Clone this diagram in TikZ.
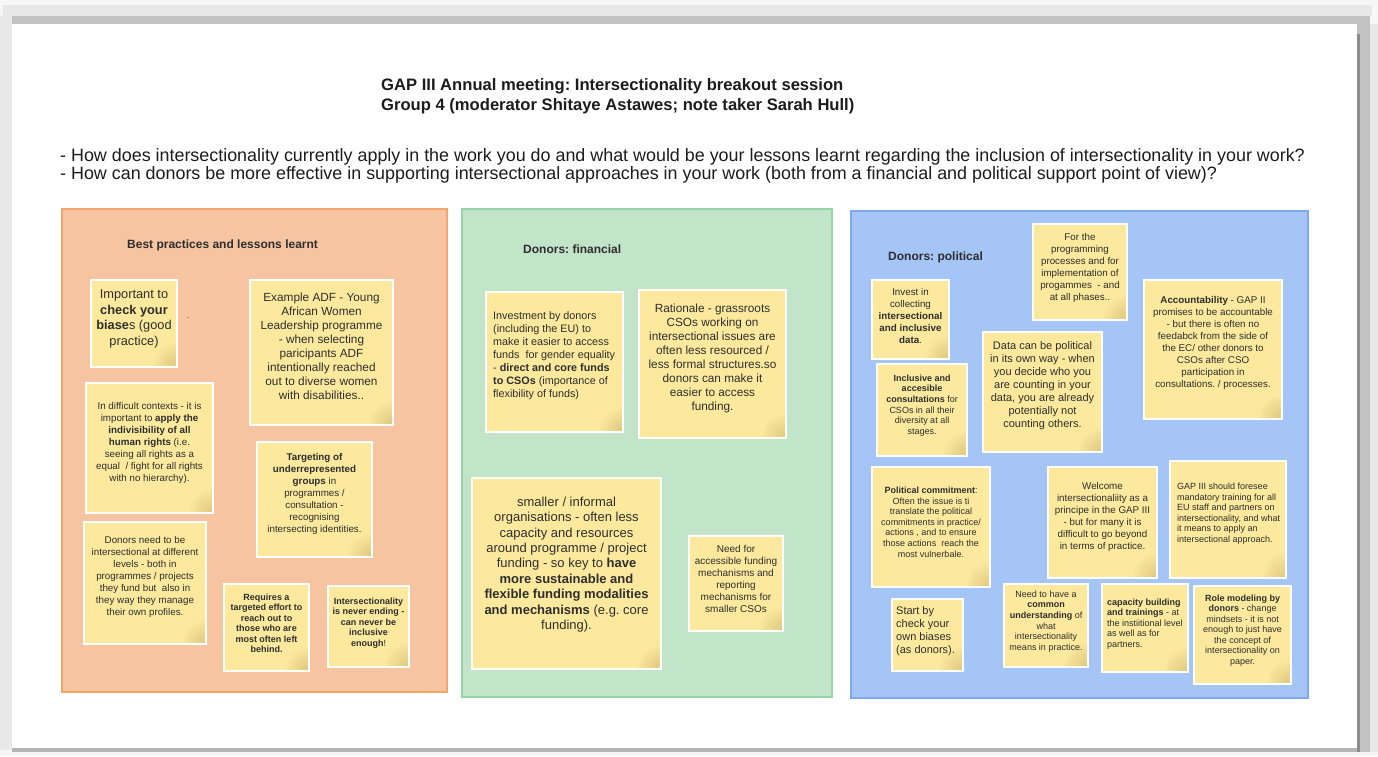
\documentclass[tikz,border=0pt]{standalone}
\usepackage{fontspec}
\setmainfont{Liberation Sans}
\usetikzlibrary{fit}
\frenchspacing

\definecolor{outerbg}{HTML}{F6F6F6}
\definecolor{bandgray}{HTML}{E8E8E8}
\definecolor{shadowgray}{HTML}{C2C2C2}
\definecolor{darkedge}{HTML}{8C8C8C}
\definecolor{bottomedge}{HTML}{B4B4B4}
\definecolor{inktext}{HTML}{2E2E2E}
\definecolor{titleink}{HTML}{1C1C1C}
\definecolor{orangefill}{HTML}{F6C4A0}
\definecolor{orangeline}{HTML}{F2A46E}
\definecolor{greenfill}{HTML}{C2E4C9}
\definecolor{greenline}{HTML}{96D3A5}
\definecolor{bluefill}{HTML}{A6C5F7}
\definecolor{blueline}{HTML}{7EA8F0}
\definecolor{stickyfill}{HTML}{FCE99D}
\definecolor{stickyshade}{HTML}{D8C27A}

\tikzset{
  panel/.style={inner sep=0pt, line width=1.2pt},
  paneltitle/.style={anchor=west, inner sep=0pt, text=inktext,
    font=\fontsize{12}{14}\selectfont\bfseries},
  % sticky note: pale yellow card with a curled, darker lower right corner
  stickynote/.style={inner sep=0pt, draw=white, line width=1.2pt, fill=stickyfill,
    path picture={
      \foreach \i [evaluate=\i as \r using 26-2.4*\i,
                   evaluate=\i as \p using 8.5*\i] in {1,...,10}
        \fill[stickyshade!\p!stickyfill]
          (path picture bounding box.south east) circle[radius=\r pt];}},
  stickytext/.style={inner sep=0pt, text=inktext, align=center},
  fs/.style n args={2}{font=\fontsize{#1}{#2}\selectfont},
}

% name, x1, y1, x2, y2, text keys, text x, text y, text
\newcommand\sticky[9]{%
  \node[stickynote, fit={(#2,#3) (#4,#5)}] (#1) {};
  \node[stickytext, #6] (#1-text) at (#7,#8) {#9};
}

\begin{document}
\begin{tikzpicture}[x=1pt, y=-1pt]
\useasboundingbox (0,0) rectangle (1378,756);

% window frame around the page
\fill[outerbg] (0,0) rectangle (1378,756);
\fill[bandgray] (3,5) rectangle (1372,16);
\fill[bandgray] (0,16) rectangle (12,750);
\fill[shadowgray] (12,16) rectangle (1370,24);
\fill[shadowgray] (1357,24) rectangle (1370,752);
\fill[bandgray] (1370,24) rectangle (1378,752);
\fill[darkedge] (1357,34) rectangle (1360,752);
\fill[bottomedge] (12,748) rectangle (1357,752);
\fill[white] (12,24) rectangle (1357,748);

% heading
\node[anchor=base west, inner sep=0pt, text=titleink,
      font=\fontsize{16.6}{20}\selectfont\bfseries] (title1) at (381,90)
  {GAP III Annual meeting: Intersectionality breakout session};
\node[anchor=base west, inner sep=0pt, text=titleink,
      font=\fontsize{16.6}{20}\selectfont\bfseries] (title2) at (381,110)
  {Group 4 (moderator Shitaye Astawes; note taker Sarah Hull)};

% guiding questions
\node[anchor=base west, inner sep=0pt, text=titleink,
      font=\fontsize{17.9}{18}\selectfont] (q1) at (60,161)
  {- How does intersectionality currently apply in the work you do and what would be your lessons learnt regarding the inclusion of intersectionality in your work?};
\node[anchor=base west, inner sep=0pt, text=titleink,
      font=\fontsize{17.9}{18}\selectfont] (q2) at (60,179)
  {- How can donors be more effective in supporting intersectional approaches in your work (both from a financial and political support point of view)?};

% three group panels
\node[panel, fill=orangefill, draw=orangeline, fit={(62,209) (447,692)}] (practices) {};
\node[panel, fill=greenfill, draw=greenline, fit={(462,209) (832,697)}] (financial) {};
\node[panel, fill=bluefill, draw=blueline, fit={(851,211) (1308,698)}] (political) {};

\node[paneltitle] (practices-title) at (127,245) {Best practices and lessons learnt};
\node[paneltitle] (financial-title) at (523,249) {Donors: financial};
\node[paneltitle] (political-title) at (888,257) {Donors: political};

% --- best practices and lessons learnt ---
\sticky{biases}{91}{280}{177}{367}{fs={12.8}{15.5}}{134}{319}
  {Important to\\ \textbf{check your}\\ \textbf{biase}s (good\\ practice)}
\node[inner sep=0pt, text=inktext, font=\fontsize{8}{9}\selectfont] (stray) at (188,318) {.};
\sticky{adf}{250}{280}{393}{425}{fs={11.8}{14}}{321.5}{346}
  {Example ADF - Young\\ African Women\\ Leadership programme\\ - when selecting\\ paricipants ADF\\ intentionally reached\\ out to diverse women\\ with disabilities..}
\sticky{indivisible}{86}{383}{213}{513}{fs={9.8}{12}}{149.5}{443}
  {In difficult contexts - it is\\ important to \textbf{apply the}\\ \textbf{indivisibility of all}\\ \textbf{human rights} (i.e.\\ seeing all rights as a\\ equal~~/ fight for all rights\\ with no hierarchy).}
\sticky{targeting}{257}{442}{372}{557}{fs={9.8}{12}}{314.5}{494}
  {\textbf{Targeting of}\\ \textbf{underrepresented}\\ \textbf{groups} in\\ programmes /\\ consultation -\\ recognising\\ intersecting identities.}
\sticky{levels}{84}{522}{206}{644}{fs={9.8}{12}}{145}{577}
  {Donors need to be\\ intersectional at different\\ levels - both in\\ programmes / projects\\ they fund but~~also in\\ they way they manage\\ their own profiles.}
\sticky{effort}{224}{584}{309}{671}{font=\fontsize{9}{10.5}\selectfont\bfseries}{266.5}{623.5}
  {Requires a\\ targeted effort to\\ reach out to\\ those who are\\ most often left\\ behind.}
\sticky{neverending}{328}{586}{409}{667}{font=\fontsize{9}{10.5}\selectfont\bfseries}{368.5}{623}
  {Intersectionality\\ is never ending -\\ can never be\\ inclusive\\ enough{\mdseries !}}

% --- donors: financial ---
\sticky{investment}{486}{292}{623}{432}{fs={10.8}{12.9}, anchor=west, align=left}{493}{355.5}
  {Investment by donors\\ (including the EU) to\\ make it easier to access\\ funds~~for gender equality\\ - \textbf{direct and core funds}\\ \textbf{to CSOs} (importance of\\ flexibility of funds)}
\sticky{rationale}{639}{290}{786}{438}{fs={11.8}{14}}{712.5}{358}
  {Rationale - grassroots\\ CSOs working on\\ intersectional issues are\\ often less resourced /\\ less formal structures.so\\ donors can make it\\ easier to access\\ funding.}
\sticky{informal}{472}{478}{661}{669}{fs={13}{15.4}}{566.5}{564.5}
  {smaller / informal\\ organisations - often less\\ capacity and resources\\ around programme / project\\ funding - so key to \textbf{have}\\ \textbf{more sustainable and}\\ \textbf{flexible funding modalities}\\ \textbf{and mechanisms} (e.g. core\\ funding).}
\sticky{accessible}{689}{536}{783}{631}{fs={10}{12}}{736}{578.5}
  {Need for\\ accessible funding\\ mechanisms and\\ reporting\\ mechanisms for\\ smaller CSOs}

% --- donors: political ---
\sticky{data}{872}{280}{949}{359}{fs={9.8}{12}}{910.5}{315.5}
  {Invest in\\ collecting\\ \textbf{intersectional}\\ \textbf{and inclusive}\\ \textbf{data}.}
\sticky{phases}{1033}{224}{1127}{320}{fs={9.8}{12}}{1080}{267.5}
  {For the\\ programming\\ processes and for\\ implementation of\\ progammes~~- and\\ at all phases..}
\sticky{counting}{983}{332}{1102}{452}{fs={11}{13}}{1042.5}{386}
  {Data can be political\\ in its own way - when\\ you decide who you\\ are counting in your\\ data, you are already\\ potentially not\\ counting others.}
\sticky{accountability}{1144}{280}{1282}{419}{fs={9.8}{12}}{1213}{342.5}
  {\textbf{Accountability} - GAP II\\ promises to be accountable\\ - but there is often no\\ feedabck from the side of\\ the EC/ other donors to\\ CSOs after CSO\\ participation in\\ consultations. / processes.}
\sticky{consultations}{877}{364}{967}{456}{fs={9}{10.6}}{922}{405.5}
  {\textbf{Inclusive and}\\ \textbf{accesible}\\ \textbf{consultations} for\\ CSOs in all their\\ diversity at all\\ stages.}
\sticky{commitment}{872}{467}{990}{587}{fs={9}{10.6}}{931}{522}
  {\textbf{Political commitment}:\\ Often the issue is ti\\ translate the political\\ commitments in practice/\\ actions , and to ensure\\ those actions~~reach the\\ most vulnerbale.}
\sticky{ownbiases}{892}{599}{963}{671}{fs={11}{13}, anchor=west, align=left}{896}{631.5}
  {Start by\\ check your\\ own biases\\ (as donors).}
\sticky{understanding}{1004}{584}{1088}{667}{fs={9}{10.6}}{1046}{621.5}
  {Need to have a\\ \textbf{common}\\ \textbf{understanding} of\\ what\\ intersectionality\\ means in practice.}
\sticky{welcome}{1048}{467}{1157}{578}{fs={9.8}{12}}{1102.5}{517}
  {Welcome\\ intersectionaliity as a\\ principe in the GAP III\\ - but for many it is\\ difficult to go beyond\\ in terms of practice.}
\sticky{training}{1170}{461}{1286}{578}{fs={9}{10.5}, anchor=west, align=left}{1177}{513.5}
  {GAP III should foresee\\ mandatory training for all\\ EU staff and partners on\\ intersectionality, and what\\ it means to apply an\\ intersectional approach.}
\sticky{capacity}{1102}{584}{1188}{672}{fs={9}{10.5}, anchor=west, align=left}{1107}{624}
  {\textbf{capacity building}\\ \textbf{and trainings} - at\\ the instiitional level\\ as well as for\\ partners.}
\sticky{rolemodel}{1194}{586}{1291}{684}{fs={9}{10.5}}{1242.5}{630.5}
  {\textbf{Role modeling by}\\ \textbf{donors} - change\\ mindsets - it is not\\ enough to just have\\ the concept of\\ intersectionality on\\ paper.}

\end{tikzpicture}
\end{document}
